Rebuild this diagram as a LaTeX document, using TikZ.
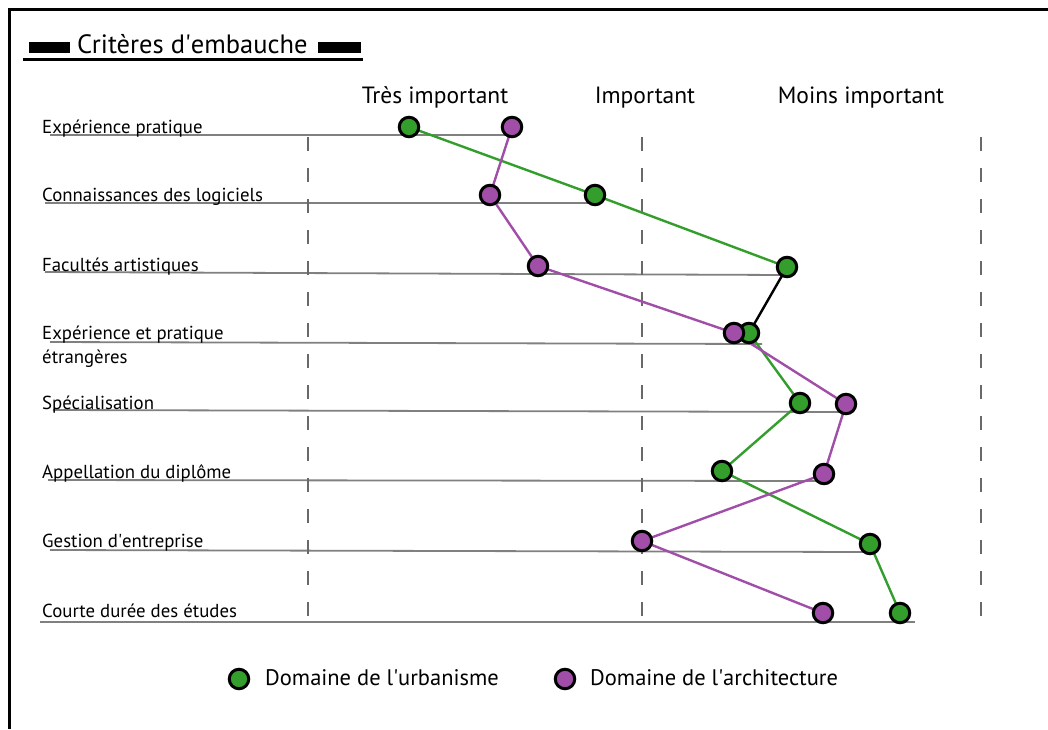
\documentclass[tikz,border=0pt]{standalone}
\usepackage{fontspec}
\setmainfont{PT Sans}
\usetikzlibrary{backgrounds}
\definecolor{ugreen}{RGB}{52,158,44}
\definecolor{apurple}{RGB}{160,78,168}
\definecolor{rowgray}{RGB}{128,128,128}
\definecolor{dashgray}{RGB}{105,105,105}
\begin{document}
\begin{tikzpicture}[x=1pt,y=-1pt,
  rowline/.style={draw=rowgray, line width=1.8pt},
  gridline/.style={draw=dashgray, line width=2.2pt, dash pattern=on 14pt off 17pt},
  dotbase/.style={circle, draw=black, line width=3pt, minimum size=19.5pt, inner sep=0pt},
  dotg/.style={dotbase, fill=ugreen},
  dotp/.style={dotbase, fill=apurple},
  gline/.style={draw=ugreen, line width=2.4pt},
  pline/.style={draw=apurple, line width=2.4pt},
  kline/.style={draw=black, line width=2.4pt},
  lab/.style={anchor=base west, inner sep=0pt, font=\fontsize{18.8}{22}\selectfont},
  head/.style={anchor=base, inner sep=0pt, font=\fontsize{23.5}{26}\selectfont},
  leg/.style={anchor=base west, inner sep=0pt, font=\fontsize{22.5}{26}\selectfont},
]
\useasboundingbox (0,0) rectangle (1048,729);
% frame
\coordinate (fbl) at (9,729);
\coordinate (ftl) at (9,9);
\coordinate (ftr) at (1048,9);
\draw[line width=3pt] (fbl) -- (ftl) -- (ftr);
% title
\fill (29,42) rectangle (70,53);
\fill (318,42) rectangle (361,53);
\coordinate (ula) at (23,59.5);
\coordinate (ulb) at (363,59.5);
\draw[line width=3.5pt] (ula) -- (ulb);
\node[anchor=base west, inner sep=0pt, font=\fontsize{26.5}{30}\selectfont] (title) at (77,53) {Critères d\textquotesingle embauche};
% headers
\node[head] (h1) at (435,103) {Très important};
\node[head] (h2) at (645,103) {Important};
\node[head] (h3) at (861,103) {Moins important};
% labels
\node[lab] (l1) at (42,133) {Expérience pratique};
\node[lab] (l2) at (42,201) {Connaissances des logiciels};
\node[lab] (l3) at (42,271) {Facultés artistiques};
\node[lab] (l4) at (42,339) {Expérience et pratique};
\node[lab] (l4b) at (42,363) {étrangères};
\node[lab] (l5) at (42,409) {Spécialisation};
\node[lab] (l6) at (42,478) {Appellation du diplôme};
\node[lab] (l7) at (42,547) {Gestion d\textquotesingle entreprise};
\node[lab] (l8) at (42,617) {Courte durée des études};
% row line coordinates
\coordinate (r1a) at (50,135);  \coordinate (r1b) at (512,135);
\coordinate (r2a) at (45,203);  \coordinate (r2b) at (595,203);
\coordinate (r3a) at (45,272);  \coordinate (r3b) at (787,275);
\coordinate (r4a) at (50,342);  \coordinate (r4b) at (762,344);
\coordinate (r5a) at (53,410);  \coordinate (r5b) at (853,412);
\coordinate (r6a) at (48,480);  \coordinate (r6b) at (820,481);
\coordinate (r7a) at (50,550);  \coordinate (r7b) at (870,552);
\coordinate (r8a) at (40,622);  \coordinate (r8b) at (915,622);
% grid coordinates
\coordinate (d1a) at (308,137); \coordinate (d1b) at (308,622);
\coordinate (d2a) at (642,137); \coordinate (d2b) at (642,622);
\coordinate (d3a) at (981,137); \coordinate (d3b) at (981,622);
% dots
\node[dotg] (g1) at (409,127) {};
\node[dotp] (p1) at (512,127) {};
\node[dotp] (p2) at (490,195) {};
\node[dotg] (g2) at (595,195) {};
\node[dotp] (p3) at (538,266) {};
\node[dotg] (g3) at (787,267) {};
\node[dotg] (g4) at (749,333) {};
\node[dotp] (p4) at (734,333) {};
\node[dotg] (g5) at (800,403) {};
\node[dotp] (p5) at (846,404) {};
\node[dotg] (g6) at (722,471) {};
\node[dotp] (p6) at (824,474) {};
\node[dotp] (p7) at (642,541) {};
\node[dotg] (g7) at (870,544) {};
\node[dotp] (p8) at (823,613) {};
\node[dotg] (g8) at (900,613) {};
% legend
\node[dotg] (lg) at (239,679) {};
\node[leg] (lgt) at (265,685) {Domaine de l\textquotesingle urbanisme};
\node[dotp] (lp) at (565,679) {};
\node[leg] (lpt) at (590,685) {Domaine de l\textquotesingle architecture};
\begin{pgfonlayer}{background}
  \foreach \r in {1,...,8} {\draw[rowline] (r\r a) -- (r\r b);}
  \foreach \d in {1,2,3} {\draw[gridline] (d\d a) -- (d\d b);}
  \draw[gline] (g1.center) -- (g2.center) -- (g3.center);
  \draw[kline] (g3.center) -- (g4.center);
  \draw[gline] (g4.center) -- (g5.center) -- (g6.center) -- (g7.center) -- (g8.center);
  \draw[pline] (p1.center) -- (p2.center) -- (p3.center) -- (p4.center) -- (p5.center) -- (p6.center) -- (p7.center) -- (p8.center);
\end{pgfonlayer}
\end{tikzpicture}
\end{document}
